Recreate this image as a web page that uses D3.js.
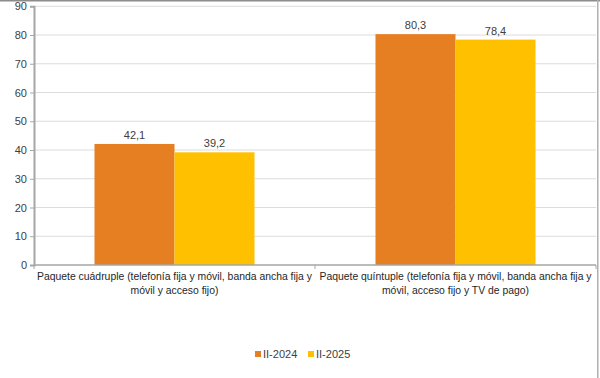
<!DOCTYPE html>
<html><head><meta charset="utf-8">
<script src="https://cdn.jsdelivr.net/npm/d3@7"></script>
<style>body{margin:0;background:#fff}svg{display:block}</style>
</head><body><svg id="c" width="600" height="378"></svg>
<script>
const categories = [
  ["Paquete cuádruple (telefonía fija y móvil, banda ancha fija y", "móvil y acceso fijo)"],
  ["Paquete quíntuple (telefonía fija y móvil, banda ancha fija y", "móvil, acceso fijo y TV de pago)"]
];
const seriesNames = ["II-2024", "II-2025"];
const values2024 = [42.1, 80.3];
const values2025 = [39.2, 78.4];
const yTicks = [0,10,20,30,40,50,60,70,80,90];
const colors = ["#E67E22", "#FFC000"];

const svg = d3.select("#c");
const font = "Liberation Sans, Arial, sans-serif";
const m = {l:34, r:596, t:6.25, b:265};
// frame
svg.append("rect").attr("x",0).attr("y",0).attr("width",600).attr("height",1.5).attr("fill","#8c8c8c");
svg.append("rect").attr("x",597).attr("y",0).attr("width",1.5).attr("height",378).attr("fill","#b0b0b0");

const y = d3.scaleLinear().domain([0,90]).range([m.b, m.t]);
const x0 = d3.scaleBand().domain(d3.range(categories.length)).range([m.l, m.r]);
const x1 = d3.scaleBand().domain([0,1]).range([0, 160]);
const offset = (x0.bandwidth()-160)/2;

// gridlines
svg.append("g").selectAll("line").data(yTicks.filter(d=>d>0)).join("line")
  .attr("x1",m.l).attr("x2",m.r).attr("y1",d=>y(d)).attr("y2",d=>y(d))
  .attr("stroke","#dcdcdc").attr("stroke-width",1);

// y axis
const ya = svg.append("g").attr("transform",`translate(${m.l},0)`)
  .call(d3.axisLeft(y).tickValues(yTicks).tickSize(4).tickPadding(3));
ya.select(".domain").attr("stroke","#a6a6a6").attr("stroke-width",2);
ya.selectAll(".tick line").attr("stroke","#a6a6a6");
ya.selectAll("text").attr("font-family",font).attr("font-size",11).attr("fill","#404040");

// bars
const data = categories.map((c,i)=>[values2024[i], values2025[i]]);
const g = svg.append("g");
data.forEach((vals,i)=>{
  vals.forEach((v,j)=>{
    const bx = x0(i)+offset+x1(j);
    g.append("rect").attr("x",bx).attr("y",y(v)).attr("width",x1.bandwidth())
      .attr("height",y(0)-y(v)).attr("fill",colors[j]);
    g.append("text").attr("x",bx+x1.bandwidth()/2).attr("y",y(v)-5)
      .attr("text-anchor","middle").attr("font-family",font).attr("font-size",11)
      .attr("fill","#404040").text(String(v).replace(".",","));
  });
});

// x axis
const xa = svg.append("g").attr("transform",`translate(0,${m.b})`);
xa.append("line").attr("x1",m.l).attr("x2",m.r).attr("stroke","#a6a6a6").attr("stroke-width",1.5);
const bounds = [m.l, ...categories.map((c,i)=>x0(i)+x0.bandwidth())];
xa.selectAll(".tk").data(bounds).join("line").attr("x1",d=>d).attr("x2",d=>d)
  .attr("y1",0).attr("y2",4).attr("stroke","#a6a6a6");
categories.forEach((lines,i)=>{
  const t = xa.append("text").attr("text-anchor","middle").attr("font-family",font)
    .attr("font-size",10.4).attr("fill","#262626");
  lines.forEach((ln,k)=>t.append("tspan").attr("x",x0(i)+x0.bandwidth()/2).attr("y",15+k*14).text(ln));
});

// legend
const lg = svg.append("g");
const lx = [255, 308];
seriesNames.forEach((s,j)=>{
  lg.append("rect").attr("x",lx[j]).attr("y",351).attr("width",6).attr("height",6).attr("fill",colors[j]);
  lg.append("text").attr("x",lx[j]+8).attr("y",358).attr("font-family",font).attr("font-size",11)
    .attr("fill","#404040").text(s);
});
</script></body></html>
